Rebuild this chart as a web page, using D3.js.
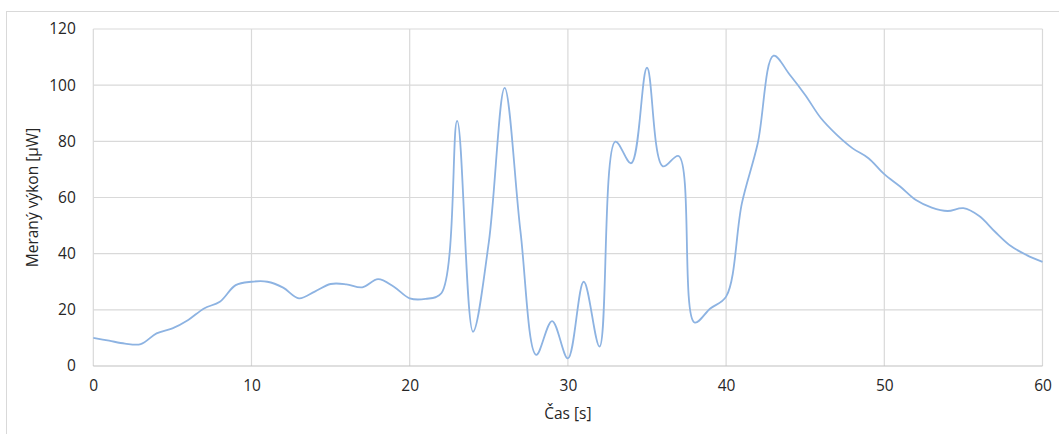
<!DOCTYPE html>
<html>
<head>
<meta charset="utf-8">
<script src="https://cdn.jsdelivr.net/npm/d3@7"></script>
<style>
  html, body { margin: 0; padding: 0; background: #fff; }
  svg { display: block; }
  text { font-family: "Open Sans", "Noto Sans", sans-serif; fill: #262626; }
</style>
</head>
<body>
<svg id="chart" width="1059" height="434"></svg>
<script>
const times = d3.range(0, 61);
const power = [10, 9, 8, 7.8, 11.6, 13.4, 16.4, 20.5, 22.9, 28.8,
               30, 30, 27.9, 24.1, 26.5, 29.2, 29.1, 28, 30.9, 28.2,
               24.1, 23.9, 25.9, 87.3, 12.2, 44, 99, 48, 4, 16,
               2.7, 30, 6.9, 79.9, 72.2, 106.2, 71.1, 74.8, 15.5, 20.5,
               24.7, 58, 79.3, 110.5, 103.9, 96.5, 88.2, 82.3, 77.5, 74,
               68.3, 63.9, 59.1, 56.4, 55.2, 56.2, 53.4, 47.8, 42.7, 39.5, 37.1];
const xTicks = [0, 10, 20, 30, 40, 50, 60];
const yTicks = [0, 20, 40, 60, 80, 100, 120];
const xTitle = "Čas [s]";
const yTitle = "Meraný výkon [µW]";

const svg = d3.select("#chart");
const W = 1059, H = 434;
const m = { left: 93.3, right: 1042.5, top: 29, bottom: 366 };

// outer chart border
svg.append("rect")
  .attr("x", 6.5).attr("y", 11.5)
  .attr("width", W + 10).attr("height", H + 10)
  .attr("fill", "none").attr("stroke", "#d9d9d9").attr("stroke-width", 1);

const x = d3.scaleLinear().domain([0, 60]).range([m.left, m.right]);
const y = d3.scaleLinear().domain([0, 120]).range([m.bottom, m.top]);

// gridlines
svg.append("g").selectAll("line").data(yTicks.filter(d => d !== 0)).join("line")
  .attr("x1", m.left).attr("x2", m.right)
  .attr("y1", d => y(d)).attr("y2", d => y(d))
  .attr("stroke", "#d9d9d9").attr("stroke-width", 1.2);
svg.append("g").selectAll("line").data(xTicks).join("line")
  .attr("x1", d => x(d)).attr("x2", d => x(d))
  .attr("y1", m.top).attr("y2", m.bottom)
  .attr("stroke", "#d9d9d9").attr("stroke-width", 1.2);

// x axis line
svg.append("line")
  .attr("x1", m.left).attr("x2", m.right)
  .attr("y1", y(0)).attr("y2", y(0))
  .attr("stroke", "#bfbfbf").attr("stroke-width", 1.2);

// y tick labels
const yAxis = d3.axisLeft(y).tickValues(yTicks).tickSize(0).tickPadding(0);
const gy = svg.append("g").attr("transform", `translate(${m.left - 17.5},0)`).call(yAxis);
gy.select(".domain").remove();
gy.selectAll("text").attr("font-size", "15.5px").attr("font-family", "Open Sans, Noto Sans, sans-serif").attr("fill", "#262626");

// x tick labels
const xAxis = d3.axisBottom(x).tickValues(xTicks).tickSize(0).tickPadding(0);
const gx = svg.append("g").attr("transform", `translate(0,${m.bottom + 14})`).call(xAxis);
gx.select(".domain").remove();
gx.selectAll("text").attr("font-size", "15.5px").attr("font-family", "Open Sans, Noto Sans, sans-serif").attr("fill", "#262626");

// line
const line = d3.line()
  .x((d, i) => x(times[i]))
  .y(d => y(d))
  .curve(d3.curveCatmullRom.alpha(0.5));
svg.append("path")
  .datum(power)
  .attr("d", line)
  .attr("fill", "none")
  .attr("stroke", "#8db3e2")
  .attr("stroke-width", 1.8)
  .attr("stroke-linejoin", "round");

// axis titles
svg.append("text")
  .attr("x", (m.left + m.right) / 2).attr("y", 419)
  .attr("text-anchor", "middle").attr("font-size", "15.5px")
  .text(xTitle);
svg.append("text")
  .attr("transform", `translate(38,${(m.top + m.bottom) / 2}) rotate(-90)`)
  .attr("text-anchor", "middle").attr("font-size", "15.5px")
  .text(yTitle);
</script>
</body>
</html>
